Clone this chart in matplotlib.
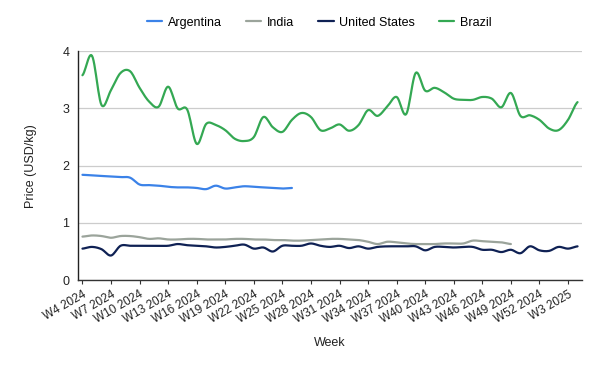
import numpy as np
import matplotlib
matplotlib.use("Agg")
import matplotlib.pyplot as plt

plt.rcParams['font.family'] = ['Liberation Sans', 'DejaVu Sans']

weeks = [f"W{w} 2024" for w in range(4, 53)] + [f"W{w} 2025" for w in range(1, 5)]

argentina = [1.84, 1.83, 1.82, 1.81, 1.80, 1.79, 1.67, 1.66, 1.65, 1.63, 1.62, 1.62,
             1.61, 1.59, 1.65, 1.60, 1.62, 1.64, 1.63, 1.62, 1.61, 1.60, 1.61]
india = [0.76, 0.78, 0.77, 0.74, 0.77, 0.77, 0.75, 0.72, 0.73, 0.71, 0.71, 0.72,
         0.72, 0.71, 0.71, 0.71, 0.72, 0.72, 0.71, 0.71, 0.70, 0.70, 0.69, 0.69,
         0.70, 0.71, 0.72, 0.72, 0.71, 0.70, 0.67, 0.63, 0.67, 0.66, 0.64, 0.63,
         0.63, 0.63, 0.64, 0.64, 0.64, 0.69, 0.68, 0.67, 0.66, 0.63]
united_states = [0.55, 0.58, 0.54, 0.43, 0.60, 0.60, 0.60, 0.60, 0.60, 0.60, 0.63, 0.61,
                 0.60, 0.59, 0.57, 0.58, 0.60, 0.62, 0.55, 0.57, 0.50, 0.60, 0.60, 0.60,
                 0.64, 0.60, 0.58, 0.60, 0.56, 0.59, 0.55, 0.58, 0.59, 0.59, 0.59, 0.59,
                 0.52, 0.58, 0.58, 0.57, 0.58, 0.58, 0.53, 0.53, 0.49, 0.53, 0.47, 0.59,
                 0.52, 0.51, 0.58, 0.55, 0.59]
brazil = [3.58, 3.92, 3.06, 3.32, 3.62, 3.65, 3.36, 3.12, 3.03, 3.38, 3.00, 2.98,
          2.38, 2.73, 2.71, 2.62, 2.47, 2.43, 2.50, 2.85, 2.67, 2.59, 2.80, 2.92,
          2.85, 2.62, 2.65, 2.72, 2.61, 2.71, 2.97, 2.87, 3.03, 3.20, 2.90, 3.62,
          3.31, 3.36, 3.28, 3.17, 3.15, 3.15, 3.20, 3.17, 3.02, 3.27, 2.87, 2.88,
          2.80, 2.65, 2.62, 2.80, 3.11]

series = [("Argentina", argentina, "#3b82e8"),
          ("India", india, "#9ba49b"),
          ("United States", united_states, "#0f2154"),
          ("Brazil", brazil, "#34a853")]


def smooth(xs, ys, n=12):
    xs = np.asarray(xs, float)
    ys = np.asarray(ys, float)
    if len(xs) < 3:
        return xs, ys
    px = np.concatenate([[xs[0]], xs, [xs[-1]]])
    py = np.concatenate([[ys[0]], ys, [ys[-1]]])
    outx, outy = [], []
    t = np.linspace(0, 1, n, endpoint=False)
    for i in range(1, len(px) - 2):
        p0, p1, p2, p3 = py[i - 1], py[i], py[i + 1], py[i + 2]
        m1 = (p2 - p0) / 2.0
        m2 = (p3 - p1) / 2.0
        h00 = 2 * t**3 - 3 * t**2 + 1
        h10 = t**3 - 2 * t**2 + t
        h01 = -2 * t**3 + 3 * t**2
        h11 = t**3 - t**2
        outy.append(h00 * p1 + h10 * m1 + h01 * p2 + h11 * m2)
        outx.append(px[i] + t * (px[i + 1] - px[i]))
    outx.append([xs[-1]])
    outy.append([ys[-1]])
    return np.concatenate(outx), np.concatenate(outy)


fig = plt.figure(figsize=(6, 3.71), dpi=100)
ax = fig.add_axes([0.1295, 0.245, 0.9705 - 0.1295, 0.862 - 0.245])

for name, vals, color in series:
    x = np.arange(len(vals))
    sx, sy = smooth(x, vals)
    ax.plot(sx, sy, color=color, lw=1.6, label=name, solid_capstyle='round')

ax.set_xlim(-0.5, len(weeks) - 0.5)
ax.set_ylim(0, 4)
ax.set_yticks([0, 1, 2, 3, 4])
ax.yaxis.grid(True, color="#cccccc", lw=0.9)
ax.set_axisbelow(True)
tick_idx = list(range(0, len(weeks) - 1, 3))
ax.set_xticks(tick_idx)
ax.set_xticklabels([weeks[i] for i in tick_idx], rotation=30, ha='right',
                   rotation_mode='anchor', fontsize=8.5, color="#222222")
ax.tick_params(axis='x', length=3, color="#333333", pad=3)
ax.tick_params(axis='y', length=0, labelsize=9, pad=6, labelcolor="#222222")
for s in ['top', 'right']:
    ax.spines[s].set_visible(False)
ax.spines['left'].set_color("#222222")
ax.spines['bottom'].set_color("#333333")
ax.spines['left'].set_linewidth(1.0)
ax.spines['bottom'].set_linewidth(1.0)

ax.set_ylabel("Price (USD/kg)", fontsize=9, color="#222222", labelpad=18)
ax.set_xlabel("Week", fontsize=9, color="#222222", labelpad=8)

fig.legend(loc='upper center', bbox_to_anchor=(0.532, 0.985), ncol=4, frameon=False,
           fontsize=9, handlelength=1.25, columnspacing=1.9, handletextpad=0.45)

fig.savefig("out.png", dpi=100, facecolor="white")
